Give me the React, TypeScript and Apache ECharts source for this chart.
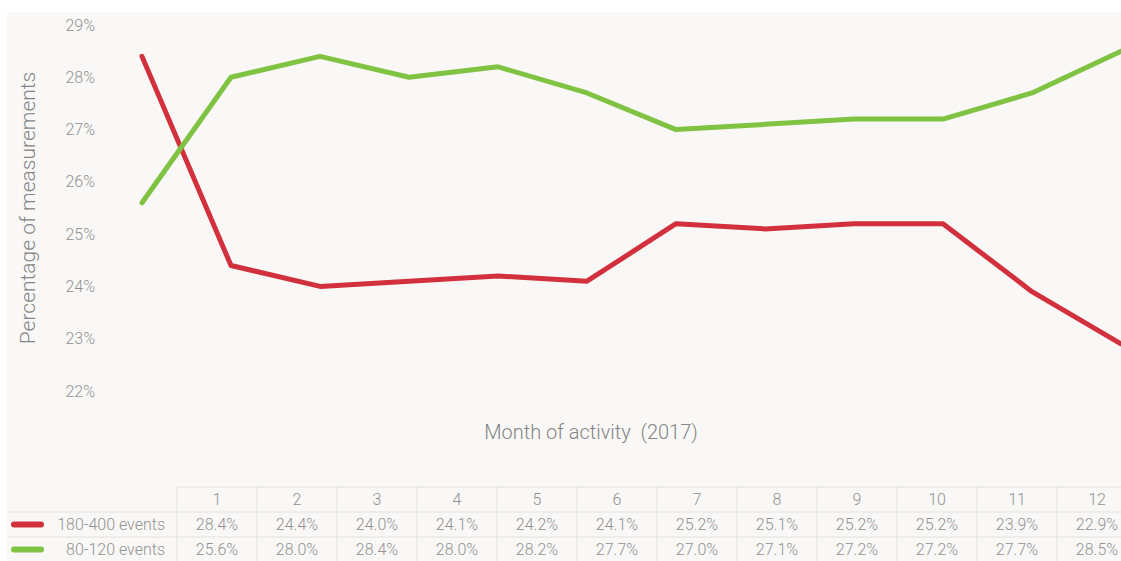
import React, { useEffect, useRef } from "react";
import * as echarts from "echarts";

const months = ["1", "2", "3", "4", "5", "6", "7", "8", "9", "10", "11", "12"];
const redName = "180-400 events";
const greenName = "80-120 events";
const redValues = [28.4, 24.4, 24.0, 24.1, 24.2, 24.1, 25.2, 25.1, 25.2, 25.2, 23.9, 22.9];
const greenValues = [25.6, 28.0, 28.4, 28.0, 28.2, 27.7, 27.0, 27.1, 27.2, 27.2, 27.7, 28.5];

const RED = "#d1303c";
const GREEN = "#80c242";
const TXT = "#929292";
const LINE = "#e3e2df";
const FONT = "Roboto, 'Open Sans', sans-serif";

export default function App() {
  const ref = useRef<HTMLDivElement>(null);
  useEffect(() => {
    if (!ref.current) return;
    const chart = echarts.init(ref.current, undefined, { renderer: "svg" });

    const colX0 = 177;
    const colW = 80;
    const rowTop = 487;
    const rowH = 25;
    const graphics: any[] = [];
    graphics.push({
      type: "rect",
      z: -10,
      shape: { x: 7, y: 12, width: 1114, height: 549 },
      style: { fill: "#f9f8f6" },
      silent: true,
    });
    graphics.push({ type: "line", shape: { x1: colX0, y1: rowTop, x2: 1121, y2: rowTop }, style: { stroke: LINE, lineWidth: 1 } });
    graphics.push({ type: "line", shape: { x1: 7, y1: rowTop + rowH, x2: 1121, y2: rowTop + rowH }, style: { stroke: LINE, lineWidth: 1 } });
    graphics.push({ type: "line", shape: { x1: 7, y1: rowTop + 2 * rowH, x2: 1121, y2: rowTop + 2 * rowH }, style: { stroke: LINE, lineWidth: 1 } });
    for (let i = 0; i <= months.length; i++) {
      const x = colX0 + i * colW;
      graphics.push({ type: "line", shape: { x1: x, y1: rowTop, x2: x, y2: 561 }, style: { stroke: LINE, lineWidth: 1 } });
    }
    const cellFont = `300 16px ${FONT}`;
    months.forEach((m, i) => {
      const cx = colX0 + i * colW + colW / 2;
      graphics.push({ type: "text", x: cx, y: rowTop + rowH / 2, style: { text: m, fill: TXT, font: cellFont, align: "center", verticalAlign: "middle" } });
      graphics.push({ type: "text", x: cx, y: rowTop + rowH * 1.5, style: { text: redValues[i].toFixed(1) + "%", fill: TXT, font: cellFont, align: "center", verticalAlign: "middle" } });
      graphics.push({ type: "text", x: cx, y: rowTop + rowH * 2.5, style: { text: greenValues[i].toFixed(1) + "%", fill: TXT, font: cellFont, align: "center", verticalAlign: "middle" } });
    });
    graphics.push({ type: "line", shape: { x1: 14, y1: rowTop + rowH * 1.5, x2: 41, y2: rowTop + rowH * 1.5 }, style: { stroke: RED, lineWidth: 6, lineCap: "round" } });
    graphics.push({ type: "line", shape: { x1: 14, y1: rowTop + rowH * 2.5, x2: 41, y2: rowTop + rowH * 2.5 }, style: { stroke: GREEN, lineWidth: 6, lineCap: "round" } });
    graphics.push({ type: "text", x: 165, y: rowTop + rowH * 1.5, style: { text: redName, fill: TXT, font: cellFont, align: "right", verticalAlign: "middle" } });
    graphics.push({ type: "text", x: 165, y: rowTop + rowH * 2.5, style: { text: greenName, fill: TXT, font: cellFont, align: "right", verticalAlign: "middle" } });
    graphics.push({ type: "text", x: 591, y: 432, style: { text: "Month of activity  (2017)", fill: "#858585", font: `300 20px ${FONT}`, align: "center", verticalAlign: "middle" } });

    chart.setOption({
      animation: false,
      backgroundColor: "#ffffff",
      grid: { left: 142, right: 0, top: 25, bottom: 170, containLabel: false },
      xAxis: {
        type: "category",
        data: months,
        boundaryGap: false,
        axisLine: { show: false },
        axisTick: { show: false },
        axisLabel: { show: false },
        splitLine: { show: false },
      },
      yAxis: {
        type: "value",
        min: 22,
        max: 29,
        interval: 1,
        name: "Percentage of measurements",
        nameLocation: "middle",
        nameGap: 104,
        nameTextStyle: { color: "#858585", fontSize: 21, fontFamily: FONT, fontWeight: 300 },
        axisLine: { show: false },
        axisTick: { show: false },
        splitLine: { show: false },
        axisLabel: { formatter: "{value}%", color: TXT, fontSize: 16, fontFamily: FONT, fontWeight: 300, margin: 47 },
      },
      series: [
        {
          name: redName,
          type: "line",
          data: redValues,
          symbol: "none",
          lineStyle: { color: RED, width: 5, cap: "round", join: "round" },
          itemStyle: { color: RED },
        },
        {
          name: greenName,
          type: "line",
          data: greenValues,
          symbol: "none",
          lineStyle: { color: GREEN, width: 5, cap: "round", join: "round" },
          itemStyle: { color: GREEN },
        },
      ],
      graphic: graphics,
    });
    return () => chart.dispose();
  }, []);
  return <div ref={ref} style={{ position: "fixed", left: 0, top: 0, width: 1121, height: 561 }} />;
}
